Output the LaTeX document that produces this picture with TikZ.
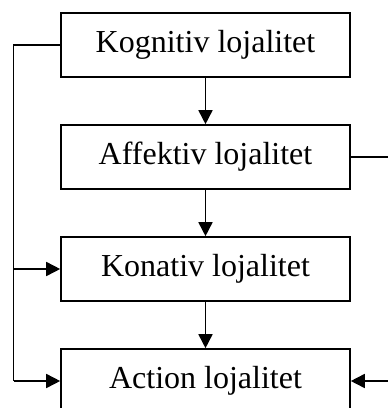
\documentclass[tikz,border=0pt]{standalone}
\usepackage{fontspec}
\setmainfont{Liberation Serif}
\usetikzlibrary{arrows.meta}
\begin{document}
\begin{tikzpicture}[x=1pt,y=-1pt,
  lbox/.style={draw,line width=1.6pt,minimum width=289pt,minimum height=64pt,inner sep=0pt,
    font=\fontsize{32}{36}\selectfont},
  conn/.style={line width=1.6pt},
  arr/.style={conn,-{Triangle[length=14pt,width=14pt]}}]
\useasboundingbox (0,0) rectangle (388,408);
\clip (0,0) rectangle (388,408);
\node[lbox] (k) at (205.5,45) {Kognitiv lojalitet};
\node[lbox] (af) at (205.5,157) {Affektiv lojalitet};
\node[lbox] (ko) at (205.5,269) {Konativ lojalitet};
\node[lbox] (ac) at (205.5,381) {Action lojalitet};
\coordinate (L) at (13.5,0);
\coordinate (R) at (392,0);
\draw[arr] (k) -- (af);
\draw[arr] (af) -- (ko);
\draw[arr] (ko) -- (ac);
\draw[conn] (k.west) -- (k.west -| L) -- (ac.west -| L);
\draw[arr] (ko.west -| L) -- (ko.west);
\draw[arr] (ac.west -| L) -- (ac.west);
\draw[conn] (af.east) -- (af.east -| R) -- (ac.east -| R);
\draw[arr] (ac.east -| R) -- (ac.east);
\end{tikzpicture}
\end{document}
